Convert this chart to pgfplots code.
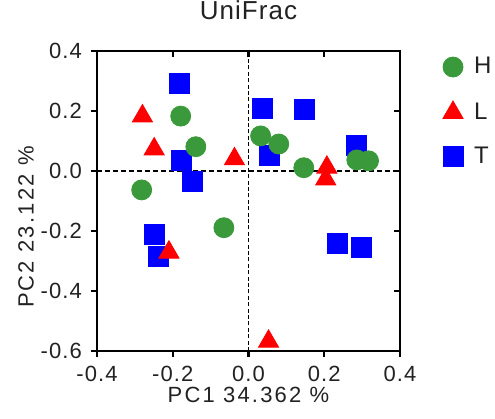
\documentclass[border=0pt]{standalone}
\usepackage{pgfplots}
\pgfplotsset{compat=1.18}
\usepackage{fontspec}
\setmainfont{Liberation Sans}
\newfontfamily\tickfont{Liberation Sans}[LetterSpace=5]
\newfontfamily\labfont{Liberation Sans}[LetterSpace=10]
\newfontfamily\titlefont{Liberation Sans}[LetterSpace=4]

\definecolor{hgreen}{RGB}{58,153,58}
\definecolor{lred}{RGB}{255,0,0}
\definecolor{tblue}{RGB}{0,0,255}
\definecolor{txt}{RGB}{34,34,34}

\pgfplotstableread{
x y
-0.183  0.292
 0.036  0.209
 0.148  0.206
 0.286  0.087
 0.056  0.053
-0.177  0.034
-0.148 -0.036
-0.249 -0.211
-0.239 -0.286
 0.236 -0.241
 0.299 -0.254
}\groupT

\pgfplotstableread{
x y
-0.280  0.183
-0.249  0.073
-0.037  0.040
 0.207  0.012
 0.204 -0.027
-0.210 -0.271
 0.053 -0.568
}\groupL

\pgfplotstableread{
x y
-0.179  0.183
-0.139  0.081
 0.032  0.117
 0.080  0.090
 0.146  0.011
 0.286  0.037
 0.317  0.034
-0.282 -0.063
-0.065 -0.189
}\groupH

\pgfplotsset{
  pcoa/.style={
    at={(0,0)}, anchor=south west,
    width=151.5pt, height=150pt, scale only axis,
    xmin=-0.4, xmax=0.4, ymin=-0.6, ymax=0.4,
    xtick={-0.4,-0.2,0,0.2,0.4},
    ytick={-0.6,-0.4,-0.2,0,0.2,0.4},
    major tick length=3pt,
    every tick/.style={black, line width=1.2pt},
  }
}

\begin{document}
\begin{tikzpicture}
\begin{axis}[
  pcoa,
  clip=false,
  axis line style={line width=1.3pt},
  tick align=outside, tick pos=left,
  tick label style={font=\tickfont\fontsize{11}{13}\selectfont, text=txt},
  xticklabel style={yshift=-1pt},
  yticklabel style={xshift=-1pt},
  /pgf/number format/.cd, fixed, fixed zerofill, precision=1, assume math mode=true,
  /pgfplots/.cd,
  title={UniFrac},
  title style={at={(0.5,1)}, anchor=base, yshift=10pt,
    font=\titlefont\fontsize{13}{15}\selectfont, text=txt},
  xlabel={PC1 34.362 \%},
  xlabel style={at={(0.5,0)}, anchor=base, yshift=-25.5pt,
    font=\labfont\fontsize{11}{13}\selectfont, text=txt},
  ylabel={PC2 23.122 \%},
  ylabel style={at={(rel axis cs:-0.234,0.413)}, anchor=center,
    font=\labfont\fontsize{11}{13}\selectfont, text=txt},
  legend image code/.code={\draw[#1] plot coordinates {(0pt,0pt)};},
  reverse legend,
  legend style={draw=none, fill=none, at={(1,1)}, anchor=north west,
    xshift=21.5pt, yshift=-3pt, inner sep=0pt, outer sep=0pt,
    font=\fontsize{12}{14}\selectfont, text=txt,
    nodes={inner sep=0pt},
    row sep=12pt,
    /tikz/every odd column/.append style={column sep=5.5pt}},
  legend cell align=left,
]
% zero reference lines
\addplot[black, line width=0.65pt, dash pattern=on 2.5pt off 1.5pt, forget plot]
  coordinates {(-0.4,0) (0.4,0)};
\addplot[black, line width=0.65pt, dash pattern=on 2pt off 1.2pt, forget plot]
  coordinates {(0,-0.6) (0,0.4)};
% groups
\addplot[only marks, mark=square*, mark size=5pt, color=tblue] table {\groupT};
\addlegendentry{T}
\addplot[only marks, mark=triangle*, mark size=5.8pt, color=lred] table {\groupL};
\addlegendentry{L}
\addplot[only marks, mark=*, mark size=5pt, color=hgreen] table {\groupH};
\addlegendentry{H}
\end{axis}
% mirrored ticks on the top and right edges, pointing inward
\begin{axis}[
  pcoa,
  axis line style={draw=none},
  tick align=inside, tick pos=right,
  xticklabels={}, yticklabels={},
]
\end{axis}
\pgfresetboundingbox
\path[use as bounding box] (-48.5pt,-34pt) rectangle (199pt,175.5pt);
\end{tikzpicture}
\end{document}
